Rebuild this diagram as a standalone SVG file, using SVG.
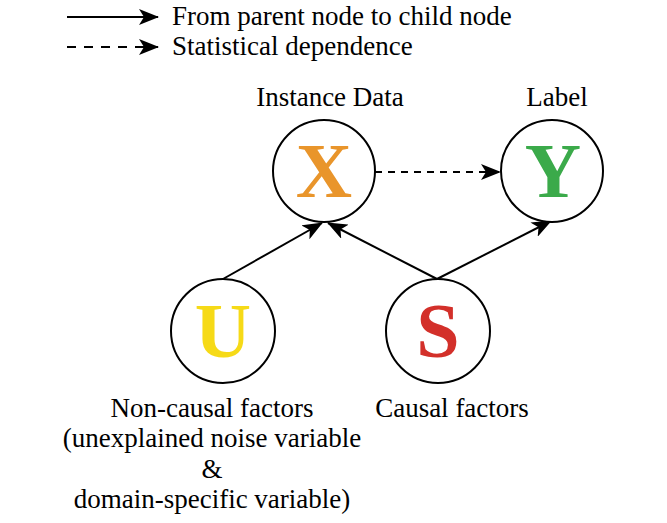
<svg xmlns="http://www.w3.org/2000/svg" width="667" height="523" viewBox="0 0 667 523">
<style>
.t{font-family:"Liberation Serif","Times New Roman",serif;font-size:27px;fill:#000}
.big{font-family:"Liberation Serif","Times New Roman",serif;font-size:78px;font-weight:bold;text-anchor:middle}
.node{fill:#fff;stroke:#000;stroke-width:2}
.edge{stroke:#000;stroke-width:2;fill:none}
</style>
<defs>
<marker id="ahb" viewBox="0 0 20 16" refX="19" refY="8" markerWidth="20" markerHeight="16" markerUnits="userSpaceOnUse" orient="auto">
<path d="M0,0 L20,8 L0,16 L5,8 Z" fill="#000"/>
</marker>
</defs>
<g id="legend">
<line class="edge" x1="67" y1="17" x2="158" y2="17" marker-end="url(#ahb)"/>
<text class="t" x="172" y="25">From parent node to child node</text>
<line class="edge" x1="67" y1="47" x2="158" y2="47" stroke-dasharray="9,8" marker-end="url(#ahb)"/>
<text class="t" x="172" y="55">Statistical dependence</text>
</g>
<g id="connectors">
<line class="edge" x1="223" y1="279" x2="322" y2="223" marker-end="url(#ahb)"/>
<line class="edge" x1="437" y1="279" x2="328" y2="223" marker-end="url(#ahb)"/>
<line class="edge" x1="437" y1="279" x2="551" y2="221" marker-end="url(#ahb)"/>
<line class="edge" x1="375" y1="172" x2="500" y2="172" stroke-dasharray="7,6" marker-end="url(#ahb)"/>
</g>
<g id="node-x">
<circle class="node" cx="324" cy="171" r="51"/>
<text class="big" x="324" y="197" fill="#E9952B">X</text>
<text class="t" x="330" y="106" text-anchor="middle">Instance Data</text>
</g>
<g id="node-y">
<circle class="node" cx="552" cy="171" r="51"/>
<text class="big" x="553" y="197" fill="#3BAA4A">Y</text>
<text class="t" x="557" y="106" text-anchor="middle">Label</text>
</g>
<g id="node-u">
<circle class="node" cx="223" cy="331" r="52"/>
<text class="big" x="223" y="357" fill="#F6DA17">U</text>
<text class="t" x="212" y="417" text-anchor="middle">Non-causal factors</text>
<text class="t" x="212" y="447" text-anchor="middle">(unexplained noise variable</text>
<text class="t" x="212" y="478" text-anchor="middle">&amp;</text>
<text class="t" x="212" y="508" text-anchor="middle">domain-specific variable)</text>
</g>
<g id="node-s">
<circle class="node" cx="438" cy="331" r="52"/>
<text class="big" x="438" y="357" fill="#D3302A">S</text>
<text class="t" x="452" y="417" text-anchor="middle">Causal factors</text>
</g>
</svg>
